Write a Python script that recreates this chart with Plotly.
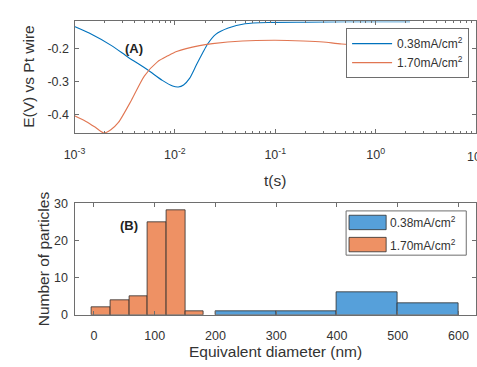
import plotly.graph_objects as go

W, H = 477, 367

# ---------------- data ----------------
t_038 = [0.001, 0.0014, 0.00234, 0.00342, 0.00534, 0.0075, 0.0095, 0.0108, 0.0122, 0.014,
         0.0164, 0.019, 0.0212, 0.0255, 0.034, 0.05, 0.09, 0.2, 0.5, 1.0, 2.2]
e_038 = [-0.133, -0.153, -0.191, -0.226, -0.264, -0.296, -0.313, -0.316, -0.310, -0.290,
         -0.249, -0.212, -0.186, -0.157, -0.138, -0.125, -0.121, -0.120, -0.119, -0.119, -0.119]

t_170 = [0.001, 0.0013, 0.0016, 0.00196, 0.0023, 0.00274, 0.00369, 0.00496, 0.0067, 0.0085,
         0.0104, 0.0176, 0.0237, 0.047, 0.1, 0.19, 0.3, 0.46, 1.0, 2.2]
e_170 = [-0.403, -0.420, -0.437, -0.455, -0.445, -0.423, -0.356, -0.283, -0.240, -0.222,
         -0.209, -0.191, -0.185, -0.177, -0.175, -0.177, -0.180, -0.186, -0.190, -0.190]

edges_038 = [200, 300, 400, 500, 600]
counts_038 = [1, 1, 6, 3]
edges_170 = [-4, 27, 58, 88.5, 119, 150, 181]
counts_170 = [2, 4, 5, 25, 28, 1]

x_ticks_top = [1e-3, 1e-2, 1e-1, 1e0, 1e1]
x_ticktext_top = ["10<sup>-3</sup>", "10<sup>-2</sup>", "10<sup>-1</sup>", "10<sup>0</sup>", "10<sup>1</sup>"]
y_ticks_top = [-0.4, -0.3, -0.2]
x_ticks_bot = [0, 100, 200, 300, 400, 500, 600]
y_ticks_bot = [0, 10, 20, 30]

labels = ["0.38mA/cm<sup>2</sup>", "1.70mA/cm<sup>2</sup>"]

# ---------------- style ----------------
FONT = "Liberation Sans, Arial, sans-serif"
TXT = "#333333"
AX = "#6e6e6e"
C_LINE_B = "rgb(0,114,189)"
C_LINE_O = "rgb(225,118,82)"
C_BAR_B = "rgb(86,160,218)"
C_BAR_O = "rgb(238,145,100)"
EDGE = "rgb(45,45,45)"

minor_top = [m * 10.0 ** d for d in range(-3, 1) for m in range(2, 10)]


def px(x):
    return x / W


def py(y):
    return 1 - y / H


def centers(edges):
    return [(a + b) / 2 for a, b in zip(edges[:-1], edges[1:])]


def widths(edges):
    return [b - a for a, b in zip(edges[:-1], edges[1:])]


fig = go.Figure()

fig.add_trace(go.Scatter(x=t_038, y=e_038, mode="lines", name=labels[0],
                         line=dict(color=C_LINE_B, width=1.1, shape="spline", smoothing=0.7),
                         xaxis="x", yaxis="y", legend="legend"))
fig.add_trace(go.Scatter(x=t_170, y=e_170, mode="lines", name=labels[1],
                         line=dict(color=C_LINE_O, width=1.1, shape="spline", smoothing=0.7),
                         xaxis="x", yaxis="y", legend="legend"))

fig.add_trace(go.Bar(x=centers(edges_038), y=counts_038, width=widths(edges_038),
                     marker=dict(color=C_BAR_B, line=dict(color=EDGE, width=0.8)),
                     name=labels[0], showlegend=False, xaxis="x2", yaxis="y2"))
fig.add_trace(go.Bar(x=centers(edges_170), y=counts_170, width=widths(edges_170),
                     marker=dict(color=C_BAR_O, line=dict(color=EDGE, width=0.8)),
                     name=labels[1], showlegend=False, xaxis="x2", yaxis="y2"))

axis_common = dict(showline=True, linecolor=AX, linewidth=1, mirror="ticks", ticks="inside",
                   ticklen=4, tickcolor=AX, showgrid=False, zeroline=False,
                   tickfont=dict(family=FONT, size=12.5, color=TXT))

dom_x = [px(65), px(476)]
fig.update_layout(
    width=W, height=H, margin=dict(l=0, r=0, t=0, b=0),
    paper_bgcolor="white", plot_bgcolor="white",
    barmode="overlay", bargap=0,
    font=dict(family=FONT, color=TXT),
    xaxis=dict(domain=dom_x, type="log", range=[-3, 1], tickvals=x_ticks_top,
               ticktext=x_ticktext_top, anchor="y", ticklabelstandoff=10,
               minor=dict(ticks="inside", ticklen=2, tickcolor=AX, tickmode="array",
                          tickvals=minor_top, showgrid=False),
               **axis_common),
    yaxis=dict(domain=[py(131), py(15)], range=[-0.455, -0.118], tickvals=y_ticks_top,
               ticktext=["-0.4", "-0.3", "-0.2"], anchor="x", ticklabelstandoff=2, **axis_common),
    xaxis2=dict(domain=dom_x, range=[-32, 629], tickvals=x_ticks_bot, anchor="y2",
                ticklabelstandoff=9, **axis_common),
    yaxis2=dict(domain=[py(320), py(204)], range=[0, 30], tickvals=y_ticks_bot, anchor="x2",
                ticklabelstandoff=3, **axis_common),
    legend=dict(x=px(343), y=py(22), xanchor="left", yanchor="top",
                bgcolor="white", bordercolor=AX, borderwidth=1,
                font=dict(family=FONT, size=12, color=TXT), itemwidth=40,
                tracegroupgap=0),
    showlegend=True,
)

# axis titles
ann = [
    dict(text="E(V) vs Pt wire", x=px(18), y=py(73), textangle=-90, size=15.5),
    dict(text="t(s)", x=px(270), y=py(180), textangle=0, size=15.5),
    dict(text="Number of particles", x=px(33), y=py(262), textangle=-90, size=15.5),
    dict(text="Equivalent diameter (nm)", x=px(271), y=py(358), textangle=0, size=15.5),
]
for a in ann:
    fig.add_annotation(text=a["text"], x=a["x"], y=a["y"], xref="paper", yref="paper",
                       showarrow=False, textangle=a["textangle"], xanchor="center", yanchor="middle",
                       font=dict(family=FONT, size=a["size"], color=TXT))

# the last top tick label is cut by the figure edge in the original
fig.add_annotation(text=x_ticktext_top[-1], x=px(476), y=py(155), xref="paper", yref="paper",
                   showarrow=False, xanchor="center", yanchor="middle",
                   font=dict(family=FONT, size=12.5, color=TXT))

fig.add_annotation(text="<b>(A)</b>", x=px(115), y=py(33), xref="paper", yref="paper",
                   showarrow=False, font=dict(family=FONT, size=13, color="#222"))
fig.add_annotation(text="<b>(B)</b>", x=px(110), y=py(227), xref="paper", yref="paper",
                   showarrow=False, font=dict(family=FONT, size=13, color="#222"))

# manual legend for the histogram (wide patches like the original)
lx0, ly0, lx1, ly1 = 343, 212, 466, 258
fig.add_shape(type="rect", xref="paper", yref="paper", x0=px(lx0), x1=px(lx1), y0=py(ly1), y1=py(ly0),
              line=dict(color=AX, width=1), fillcolor="white", layer="above")
for i, (lab, col) in enumerate(zip(labels, [C_BAR_B, C_BAR_O])):
    yc = 224 + i * 23
    fig.add_shape(type="rect", xref="paper", yref="paper", x0=px(346), x1=px(384),
                  y0=py(yc + 7.5), y1=py(yc - 7.5), line=dict(color=EDGE, width=0.8),
                  fillcolor=col, layer="above")
    fig.add_annotation(text=lab, x=px(386), y=py(yc), xref="paper", yref="paper", showarrow=False,
                       xanchor="left", yanchor="middle", font=dict(family=FONT, size=12, color=TXT))

fig.write_html("out.html")
